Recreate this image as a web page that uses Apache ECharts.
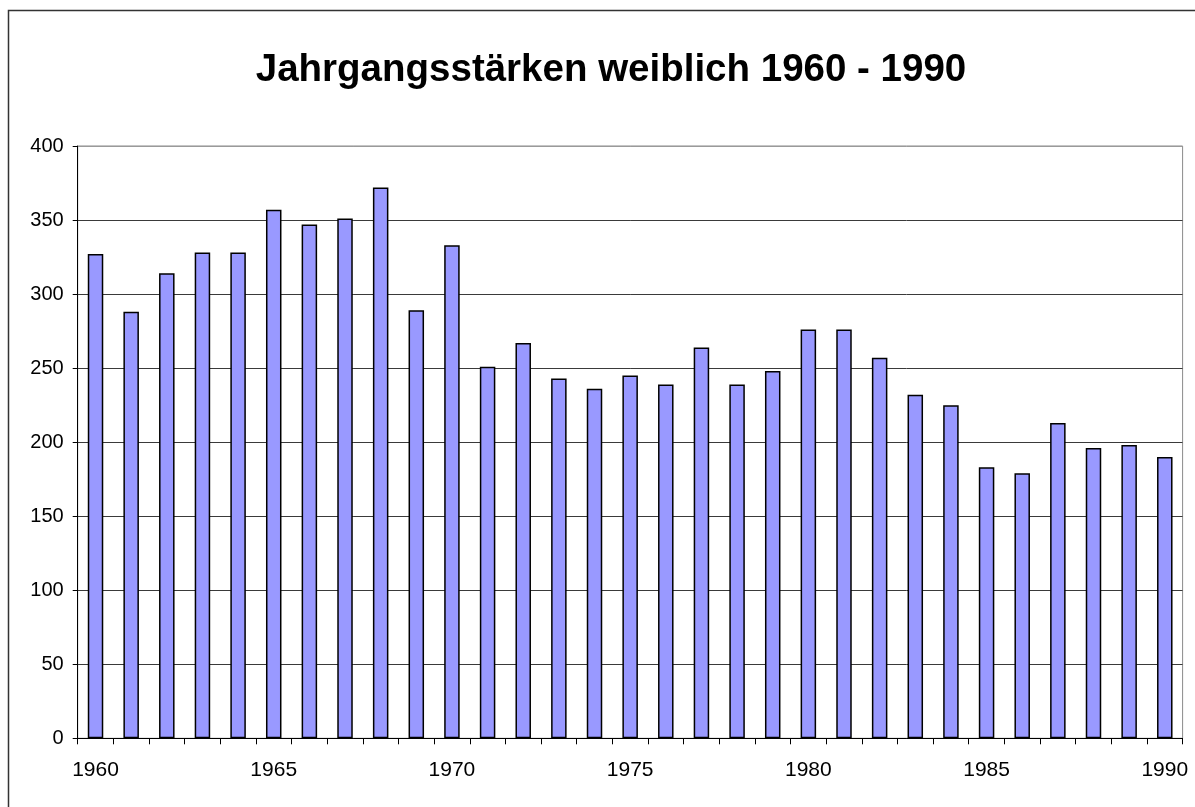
<!DOCTYPE html>
<html>
<head>
<meta charset="utf-8">
<script src="https://cdn.jsdelivr.net/npm/echarts@6/dist/echarts.min.js"></script>
<style>
html,body{margin:0;padding:0;background:#fff;}
#c{width:1195px;height:807px;}
</style>
</head>
<body>
<div id="c"></div>
<script>
var titleText = 'Jahrgangsstärken weiblich 1960 - 1990';
var years = ['1960','1961','1962','1963','1964','1965','1966','1967','1968','1969',
             '1970','1971','1972','1973','1974','1975','1976','1977','1978','1979',
             '1980','1981','1982','1983','1984','1985','1986','1987','1988','1989','1990'];
var values = [327,288,314,328,328,357,347,351,372,289,
              333,251,267,243,236,245,239,264,239,248,
              276,276,257,232,225,183,179,213,196,198,190];
var yMin = 0, yMax = 400, yStep = 50;

var chart = echarts.init(document.getElementById('c'), null, {renderer:'canvas'});
var font = '"Liberation Sans", Arial, sans-serif';
chart.setOption({
  animation: false,
  backgroundColor: '#ffffff',
  textStyle: {fontFamily: font},
  graphic: [{
    type: 'rect',
    shape: {x: 8.5, y: 10.5, width: 1210, height: 830},
    style: {fill: 'none', stroke: '#333', lineWidth: 1.5},
    silent: true
  }],
  title: {
    text: titleText,
    left: 606, top: 46, textAlign: 'center',
    textStyle: {fontFamily: font, fontSize: 38.5, fontWeight: 'bold', color: '#000'}
  },
  grid: {
    left: 77.7, right: 12.4, top: 146, bottom: 68.7,
    show: true, borderColor: '#8a8a8a', borderWidth: 1, backgroundColor: '#fff'
  },
  xAxis: {
    type: 'category',
    data: years,
    boundaryGap: true,
    axisLine: {lineStyle: {color: '#000', width: 1}},
    axisTick: {show: true, interval: 0, length: 6, lineStyle: {color: '#000'}},
    axisLabel: {interval: 4, color: '#000', fontSize: 21, fontFamily: font, margin: 21},
    splitLine: {show: false}
  },
  yAxis: {
    type: 'value',
    min: yMin, max: yMax, interval: yStep,
    axisLine: {show: true, lineStyle: {color: '#000', width: 1}},
    axisTick: {show: true, length: 5, lineStyle: {color: '#000'}},
    axisLabel: {color: '#000', fontSize: 20, fontFamily: font, margin: 14},
    splitLine: {show: true, lineStyle: {color: ['#3a3a3a','#3a3a3a','#3a3a3a','#3a3a3a','#3a3a3a','#3a3a3a','#3a3a3a','#3a3a3a','#9a9a9a'], width: 1}}
  },
  series: [{
    type: 'bar',
    data: values,
    barWidth: 15.5,
    itemStyle: {color: '#9999ff', borderColor: '#000', borderWidth: 1.5}
  }]
});
</script>
</body>
</html>
